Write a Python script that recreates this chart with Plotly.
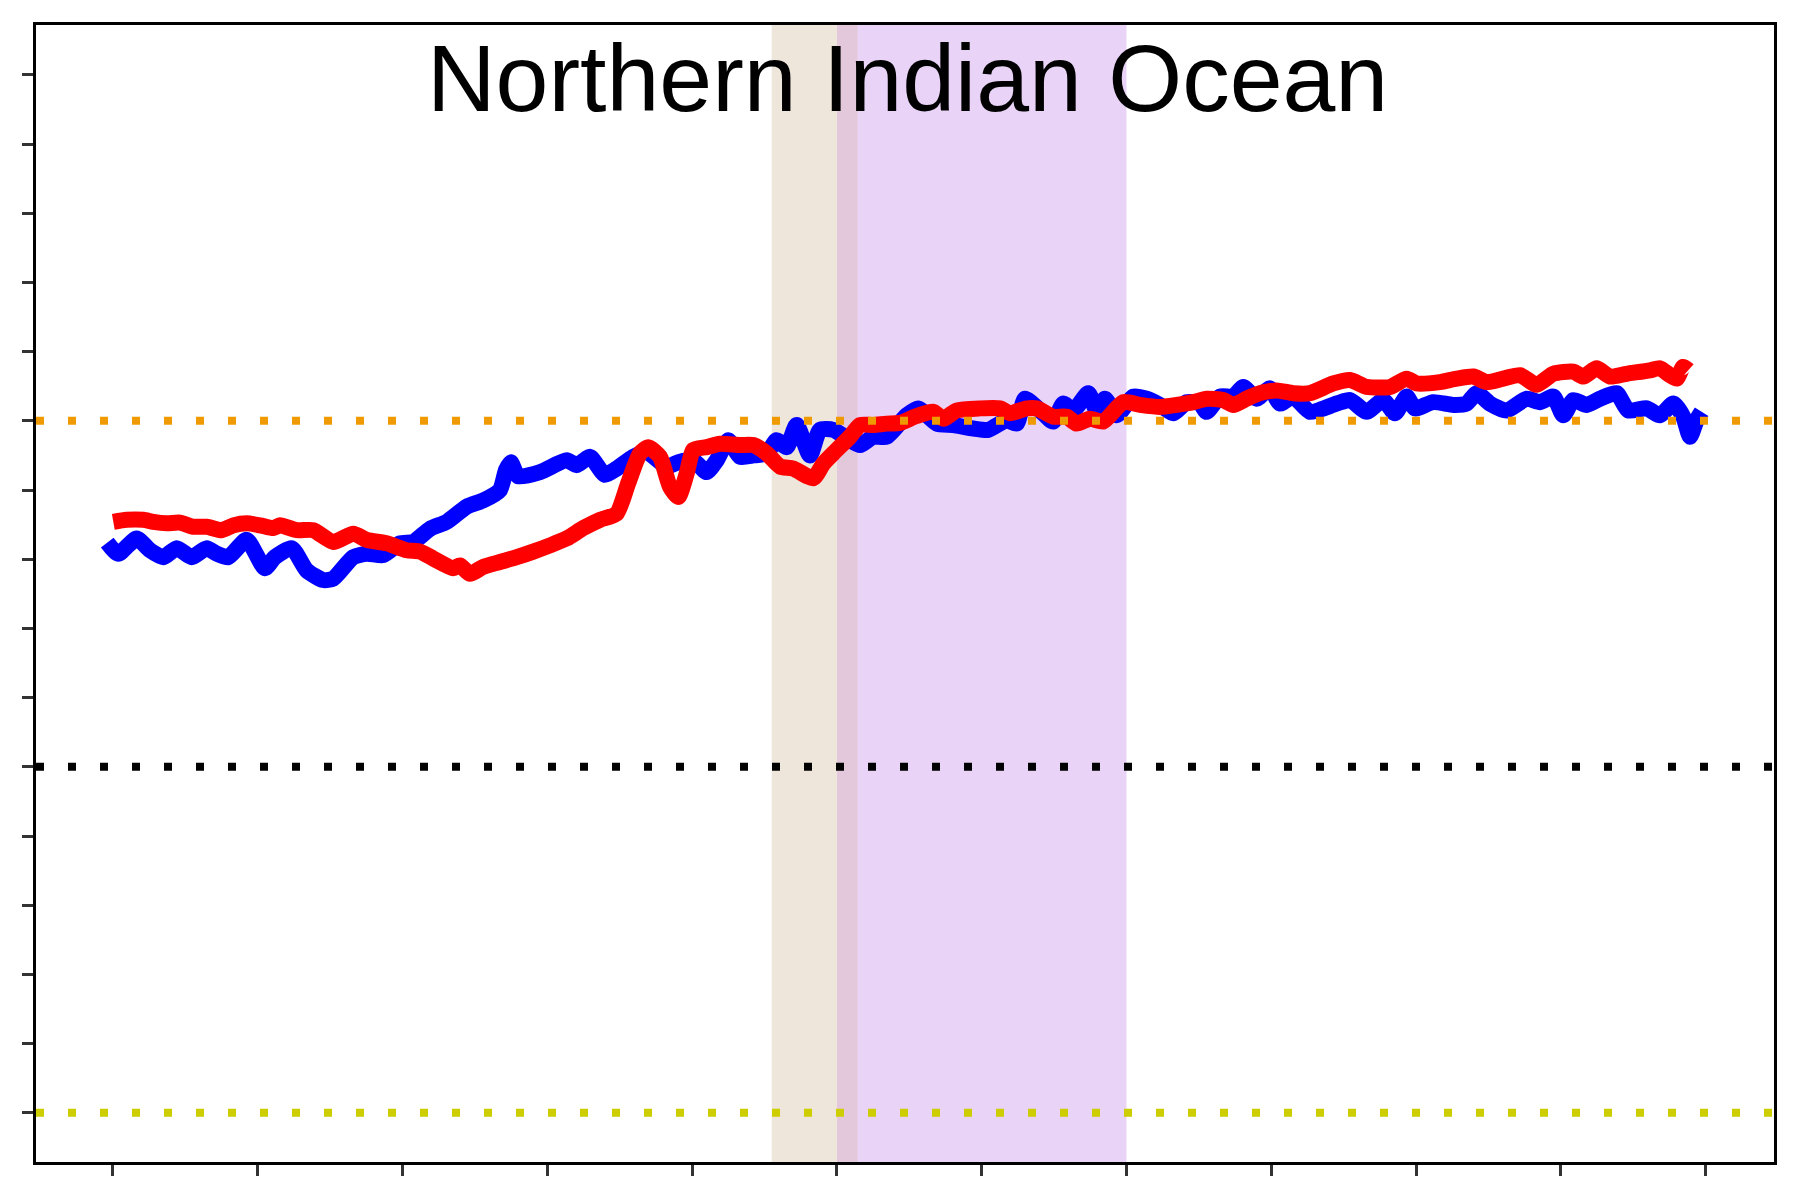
import plotly.graph_objects as go

# ---- data ----
blue_x = [-0.39, 0.37, 1.64, 2.56, 3.48, 4.41, 5.44, 6.48, 7.17, 7.97, 9.24, 10.50, 11.19, 12.35, 13.38,
          14.53, 15.22, 16.60, 17.53, 18.67, 19.83, 20.75, 21.90, 23.05, 24.43, 25.58, 26.73, 27.15, 27.49,
          27.98, 29.50, 31.34, 32.03, 32.95, 33.98, 34.79, 35.94, 36.86, 38.25, 39.16, 40.08, 41.01, 41.70,
          42.50, 43.31, 44.23, 45.15, 45.84, 46.53, 47.22, 48.14, 48.83, 49.75, 50.68, 51.60, 52.51, 53.44,
          54.82, 55.62, 56.89, 58.04, 59.42, 60.46, 61.73, 62.42, 62.99, 64.03, 64.94, 65.64, 66.33, 67.36,
          67.94, 68.52, 69.32, 70.47, 71.39, 72.31, 73.23, 74.16, 75.08, 75.54, 76.46, 77.38, 78.07, 78.99,
          79.91, 80.60, 81.52, 82.67, 84.52, 85.44, 86.59, 87.73, 88.54, 89.35, 89.92, 91.19, 92.57, 93.49,
          94.19, 95.10, 96.26, 97.64, 98.56, 99.48, 100.17, 100.86, 101.78, 102.70, 103.85, 104.65, 105.93,
          106.84, 107.76, 108.45, 108.92, 109.38, 109.72]
blue_y = [3.24, 3.08, 3.30, 3.13, 3.03, 3.16, 3.03, 3.16, 3.08, 3.03, 3.28, 2.87, 3.03, 3.16, 2.84,
          2.70, 2.72, 3.03, 3.08, 3.06, 3.23, 3.25, 3.44, 3.54, 3.76, 3.85, 4.00, 4.29, 4.40,
          4.20, 4.26, 4.43, 4.36, 4.48, 4.22, 4.31, 4.48, 4.55, 4.34, 4.41, 4.43, 4.26, 4.43,
          4.72, 4.48, 4.50, 4.53, 4.72, 4.62, 4.94, 4.50, 4.87, 4.87, 4.75, 4.65, 4.77, 4.77,
          5.08, 5.18, 4.96, 4.94, 4.89, 4.87, 5.01, 4.96, 5.32, 5.15, 4.99, 5.25, 5.15, 5.40,
          5.15, 5.32, 5.08, 5.35, 5.32, 5.23, 5.11, 5.27, 5.25, 5.13, 5.35, 5.35, 5.49, 5.32,
          5.47, 5.25, 5.35, 5.13, 5.25, 5.30, 5.13, 5.30, 5.11, 5.35, 5.18, 5.27, 5.23, 5.25,
          5.40, 5.25, 5.15, 5.32, 5.27, 5.35, 5.08, 5.30, 5.23, 5.32, 5.40, 5.15, 5.18,
          5.08, 5.25, 5.06, 4.77, 5.01, 5.13]

red_x = [0.03, 0.95, 2.10, 2.79, 3.72, 4.63, 5.55, 6.48, 7.51, 8.31, 9.24, 10.16, 11.08, 11.54, 12.69,
         13.84, 15.22, 16.60, 17.53, 18.91, 20.29, 21.21, 22.13, 23.51, 23.97, 24.66, 25.58, 26.73, 27.89,
         29.03, 30.19, 31.34, 32.49, 33.64, 34.79, 35.59, 36.40, 36.98, 37.78, 38.47, 39.05, 39.63, 40.08,
         41.01, 41.93, 43.31, 44.23, 45.15, 46.07, 46.99, 48.37, 49.06, 49.75, 50.90, 51.60, 52.51, 53.44,
         54.36, 55.51, 56.66, 57.35, 58.27, 59.88, 61.26, 61.95, 63.11, 63.80, 64.94, 65.87, 66.56, 67.48,
         68.40, 69.78, 70.93, 72.31, 73.47, 74.61, 75.54, 76.68, 77.38, 78.30, 79.22, 80.37, 81.52, 82.67,
         84.28, 85.44, 86.59, 88.20, 89.35, 90.04, 91.65, 92.80, 93.95, 94.87, 96.02, 97.18, 98.33, 99.48,
         100.86, 101.55, 102.47, 103.39, 104.54, 106.15, 106.84, 107.53, 108.00, 108.45, 108.80]
red_y = [3.54, 3.57, 3.57, 3.54, 3.52, 3.53, 3.47, 3.47, 3.42, 3.49, 3.52, 3.49, 3.45, 3.49, 3.42,
         3.42, 3.25, 3.37, 3.28, 3.23, 3.13, 3.11, 3.01, 2.87, 2.91, 2.79, 2.89, 2.96, 3.03,
         3.11, 3.20, 3.30, 3.45, 3.57, 3.66, 4.10, 4.53, 4.62, 4.48, 4.05, 3.90, 4.24, 4.58,
         4.62, 4.67, 4.65, 4.65, 4.53, 4.34, 4.31, 4.17, 4.38, 4.53, 4.77, 4.94, 4.94, 4.96,
         4.97, 5.07, 5.13, 5.03, 5.15, 5.18, 5.18, 5.11, 5.18, 5.18, 5.06, 5.06, 4.96, 5.03,
         4.99, 5.27, 5.23, 5.20, 5.23, 5.27, 5.32, 5.30, 5.23, 5.32, 5.40, 5.44, 5.40, 5.40,
         5.54, 5.59, 5.49, 5.49, 5.61, 5.54, 5.56, 5.61, 5.64, 5.56, 5.61, 5.66, 5.52, 5.68,
         5.71, 5.64, 5.76, 5.64, 5.68, 5.73, 5.76, 5.66, 5.61, 5.78, 5.73]

ref_levels = [5, 0, -5]
ref_colors = ["#EE9A00", "#000000", "#CDCD00"]

band_tan = [45.5, 51.45]
band_purple = [50.0, 70.0]

x_ticks = [0, 10, 20, 30, 40, 50, 60, 70, 80, 90, 100, 110]
y_ticks = [-5, -4, -3, -2, -1, 0, 1, 2, 3, 4, 5, 6, 7, 8, 9, 10]

title_text = "Northern Indian Ocean"

# ---- figure ----
fig = go.Figure()
fig.add_trace(go.Scatter(x=blue_x, y=blue_y, mode="lines",
                         line=dict(color="#0000FF", width=16, shape="spline", smoothing=0.6),
                         showlegend=False))
fig.add_trace(go.Scatter(x=red_x, y=red_y, mode="lines",
                         line=dict(color="#FF0000", width=16, shape="spline", smoothing=0.6),
                         showlegend=False))

shapes = []
# shaded bands
shapes.append(dict(type="rect", xref="x", yref="paper", x0=band_tan[0], x1=band_purple[0], y0=0, y1=1,
                   fillcolor="#EEE6DA", line=dict(width=0), layer="below"))
shapes.append(dict(type="rect", xref="x", yref="paper", x0=band_purple[0], x1=band_tan[1], y0=0, y1=1,
                   fillcolor="#E3C8DB", line=dict(width=0), layer="below"))
shapes.append(dict(type="rect", xref="x", yref="paper", x0=band_tan[1], x1=band_purple[1], y0=0, y1=1,
                   fillcolor="#E9D3F7", line=dict(width=0), layer="below"))
# dotted reference lines
for lvl, col in zip(ref_levels, ref_colors):
    shapes.append(dict(type="line", xref="paper", yref="y", x0=0, x1=1, y0=lvl, y1=lvl,
                       line=dict(color=col, width=8, dash="8px,24px"), layer="above"))

fig.update_layout(
    width=1792, height=1192,
    margin=dict(l=28, r=26, t=17, b=38),
    paper_bgcolor="white", plot_bgcolor="white",
    shapes=shapes,
    showlegend=False,
    font=dict(family="Liberation Sans, Arial, sans-serif", color="black"),
    annotations=[dict(text=title_text, xref="paper", yref="paper", x=0.5015, y=0.9535,
                      xanchor="center", yanchor="middle", showarrow=False,
                      font=dict(size=95, color="black",
                                family="Liberation Sans, Arial, sans-serif"))],
)
fig.update_xaxes(range=[-5.31, 114.72], tickvals=x_ticks, showticklabels=False,
                 ticks="outside", ticklen=11, tickwidth=3, tickcolor="#333333",
                 showline=True, linecolor="black", linewidth=3, mirror=True,
                 showgrid=False, zeroline=False)
fig.update_yaxes(range=[-5.71, 10.72], tickvals=y_ticks, showticklabels=False,
                 ticks="outside", ticklen=11, tickwidth=3, tickcolor="#333333",
                 showline=True, linecolor="black", linewidth=3, mirror=True,
                 showgrid=False, zeroline=False)

fig.write_html("out.html")
